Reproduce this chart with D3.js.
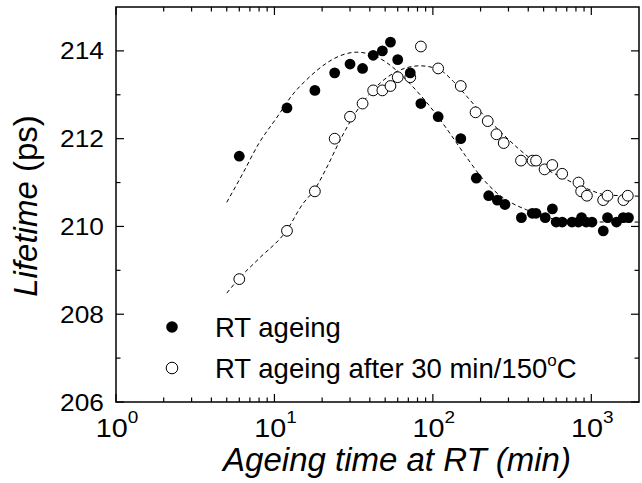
<!DOCTYPE html>
<html>
<head>
<meta charset="utf-8">
<script src="https://cdn.jsdelivr.net/npm/d3@7"></script>
<style>
  html, body { margin: 0; padding: 0; background: #fff; }
  svg { display: block; font-family: "Liberation Sans", Arial, sans-serif; }
</style>
</head>
<body>
<svg id="chart" width="642" height="483"></svg>
<script>
// Positron lifetime vs. room-temperature ageing time
const rtTime = [6, 12, 18, 24, 30, 36, 42, 48, 54, 60, 72, 84, 108, 150, 188, 225, 255, 285,
  362, 424, 448, 512, 568, 600, 655, 755, 828, 868, 928, 1010, 1190, 1266, 1442, 1590, 1716];
const rtLifetime = [211.6, 212.7, 213.1, 213.5, 213.7, 213.6, 213.9, 214.0, 214.2, 213.8, 213.5, 212.8, 212.5, 212.0, 211.1, 210.7, 210.6, 210.5,
  210.2, 210.3, 210.3, 210.2, 210.4, 210.1, 210.1, 210.1, 210.1, 210.2, 210.1, 210.1, 209.9, 210.2, 210.1, 210.2, 210.2];

const annTime = [6, 12, 18, 24, 30, 36, 42, 48, 54, 60, 72, 84, 108, 150, 186, 222, 252, 280,
  360, 426, 448, 507, 567, 655, 830, 863, 938, 1188, 1266, 1595, 1699];
const annLifetime = [208.8, 209.9, 210.8, 212.0, 212.5, 212.8, 213.1, 213.1, 213.2, 213.4, 213.4, 214.1, 213.6, 213.2, 212.6, 212.4, 212.1, 211.9,
  211.5, 211.5, 211.5, 211.3, 211.4, 211.2, 211.0, 210.8, 210.7, 210.6, 210.7, 210.6, 210.7];

// Fitted curves (dashed)
const rtFitTime = [5, 6.3, 8, 10.3, 13, 16.7, 21.3, 26, 33, 44, 60, 74, 100, 122, 160, 205, 260, 320, 390, 470, 600, 900, 1300, 2000];
const rtFitLifetime = [210.55, 211.2, 211.9, 212.47, 213.0, 213.41, 213.72, 213.89, 213.97, 213.87, 213.53, 213.2, 212.65, 212.23, 211.62, 211.1, 210.73, 210.52, 210.38, 210.26, 210.16, 210.11, 210.1, 210.1];
const annFitTime = [5, 6, 8, 12, 15, 18, 21.3, 26, 32, 42, 52, 66, 83, 110, 135, 164, 200, 260, 340, 470, 650, 925, 1240, 2000];
const annFitLifetime = [208.48, 208.82, 209.27, 209.92, 210.5, 210.85, 211.33, 211.97, 212.55, 213.11, 213.41, 213.6, 213.66, 213.57, 213.3, 212.96, 212.61, 212.2, 211.8, 211.4, 211.12, 210.87, 210.72, 210.69];

const xMajor = [1, 10, 100, 1000];
const xMajorExp = ["0", "1", "2", "3"];
const yMajor = [206, 208, 210, 212, 214];
const yMinor = [207, 209, 211, 213];

const legendLabels = ["RT ageing", "RT ageing after 30 min/150"];

const svg = d3.select("#chart");
const mLeft = 116, mRight = 639, mTop = 7, mBottom = 402;
const x = d3.scaleLog().domain([1, 2000]).range([mLeft, mRight]);
const y = d3.scaleLinear().domain([206, 215]).range([mBottom, mTop]);

function placedText(g, px, py, anchor, size, stretch) {
  return g.append("text")
    .attr("transform", `translate(${px},${py}) scale(${stretch || 1},1)`)
    .attr("text-anchor", anchor)
    .attr("font-size", size)
    .attr("fill", "#000");
}

// minor x ticks
const xMinor = [];
[1, 10, 100, 1000].forEach(d => { for (let k = 2; k <= 9; k++) { const v = d * k; if (v < 2000) xMinor.push(v); } });

const ticks = svg.append("g").attr("stroke", "#000").attr("stroke-width", 1.2);
xMajor.forEach(v => {
  ticks.append("line").attr("x1", x(v)).attr("x2", x(v)).attr("y1", mBottom).attr("y2", mBottom - 8);
  ticks.append("line").attr("x1", x(v)).attr("x2", x(v)).attr("y1", mTop).attr("y2", mTop + 8);
});
xMinor.forEach(v => {
  ticks.append("line").attr("x1", x(v)).attr("x2", x(v)).attr("y1", mBottom).attr("y2", mBottom - 4.5);
  ticks.append("line").attr("x1", x(v)).attr("x2", x(v)).attr("y1", mTop).attr("y2", mTop + 4.5);
});
yMajor.forEach(v => {
  ticks.append("line").attr("x1", mLeft).attr("x2", mLeft + 8).attr("y1", y(v)).attr("y2", y(v));
  ticks.append("line").attr("x1", mRight).attr("x2", mRight - 8).attr("y1", y(v)).attr("y2", y(v));
});
yMinor.forEach(v => {
  ticks.append("line").attr("x1", mLeft).attr("x2", mLeft + 4.5).attr("y1", y(v)).attr("y2", y(v));
  ticks.append("line").attr("x1", mRight).attr("x2", mRight - 4.5).attr("y1", y(v)).attr("y2", y(v));
});

// frame
svg.append("rect").attr("x", mLeft).attr("y", mTop).attr("width", mRight - mLeft).attr("height", mBottom - mTop)
  .attr("fill", "none").attr("stroke", "#000").attr("stroke-width", 1.5);

// tick labels
const labels = svg.append("g");
yMajor.forEach(v => {
  placedText(labels, mLeft - 12, y(v) + 8.5, "end", 23.5, 1.12).text(v);
});
xMajor.forEach((v, i) => {
  const t = placedText(labels, x(v) + 1, 437, "middle", 25, 1.15);
  t.append("tspan").text("10");
  t.append("tspan").attr("font-size", 16.5).attr("dy", -14).text(xMajorExp[i]);
});

// axis titles
placedText(svg, 397, 471, "middle", 33).attr("font-style", "italic").text("Ageing time at RT (min)");
const yt = svg.append("text").attr("transform", `translate(37,206) rotate(-90)`)
  .attr("text-anchor", "middle").attr("font-size", 33).attr("fill", "#000");
yt.append("tspan").attr("font-style", "italic").text("Lifetime");
yt.append("tspan").text(" (ps)");

// fitted curves
const line = d3.line().x(d => x(d[0])).y(d => y(d[1])).curve(d3.curveMonotoneX);
svg.append("clipPath").attr("id", "plotclip").append("rect")
  .attr("x", mLeft).attr("y", mTop).attr("width", mRight - mLeft).attr("height", mBottom - mTop);
const plot = svg.append("g").attr("clip-path", "url(#plotclip)");
plot.append("path").datum(rtFitTime.map((t, i) => [t, rtFitLifetime[i]]))
  .attr("d", line).attr("fill", "none").attr("stroke", "#000").attr("stroke-width", 1).attr("stroke-dasharray", "4,3");
plot.append("path").datum(annFitTime.map((t, i) => [t, annFitLifetime[i]]))
  .attr("d", line).attr("fill", "none").attr("stroke", "#000").attr("stroke-width", 1).attr("stroke-dasharray", "4,3");

// data points
const r = 5.4;
plot.append("g").selectAll("circle").data(annTime.map((t, i) => [t, annLifetime[i]])).join("circle")
  .attr("cx", d => x(d[0])).attr("cy", d => y(d[1])).attr("r", r)
  .attr("fill", "#fff").attr("stroke", "#000").attr("stroke-width", 1);
plot.append("g").selectAll("circle").data(rtTime.map((t, i) => [t, rtLifetime[i]])).join("circle")
  .attr("cx", d => x(d[0])).attr("cy", d => y(d[1])).attr("r", r)
  .attr("fill", "#000");

// legend
const lg = svg.append("g");
lg.append("circle").attr("cx", 172).attr("cy", 327).attr("r", r + 0.4).attr("fill", "#000");
lg.append("circle").attr("cx", 172).attr("cy", 368).attr("r", r + 0.4).attr("fill", "#fff").attr("stroke", "#000").attr("stroke-width", 1);
placedText(lg, 215, 337, "start", 27.5).text(legendLabels[0]);
const l2 = placedText(lg, 215, 378, "start", 27.5);
l2.append("tspan").text(legendLabels[1]);
l2.append("tspan").attr("font-size", 17).attr("dy", -12).text("o");
l2.append("tspan").attr("dy", 12).text("C");
</script>
</body>
</html>
